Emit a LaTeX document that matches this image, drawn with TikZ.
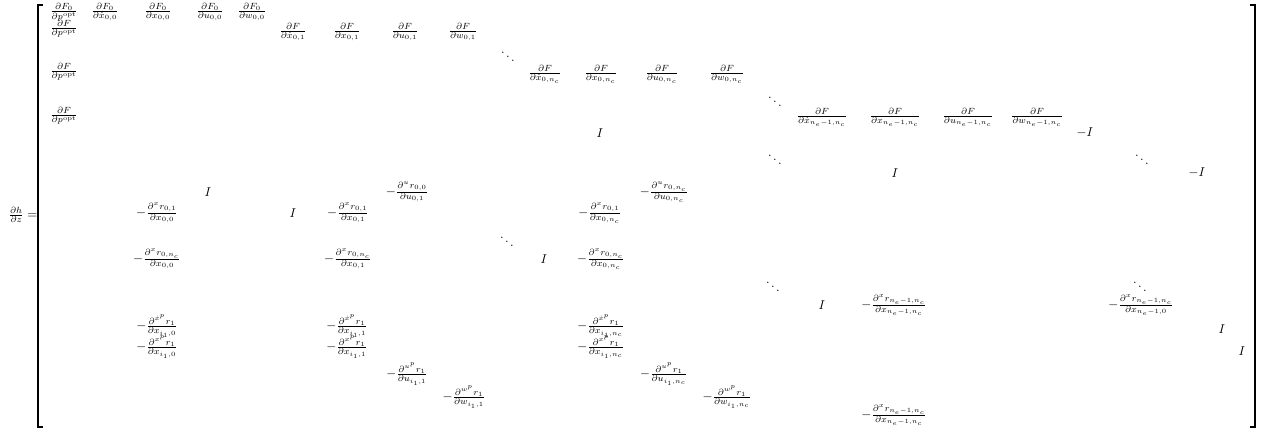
\documentclass[tikz,border=0pt]{standalone}
\usepackage{amsmath}
\begin{document}
\begin{tikzpicture}[x=0.78pt,y=-0.78pt,
  e/.style={inner sep=0pt,anchor=center},
  brk/.style={line width=1.1pt}]
\useasboundingbox (0,0) rectangle (1262,430);
% left hand side
\node[e] (lhs) at (23,215) {$\frac{\partial h}{\partial z} =$};
% brackets
\draw[brk] (43,5) -- (38,5) -- (38,427) -- (43,427);
\draw[brk] (1250,5) -- (1255,5) -- (1255,427) -- (1250,427);
% row 1
\node[e] (a1) at (64,12) {$\frac{\partial F_0}{\partial p^{\mathrm{opt}}}$};
\node[e] (a2) at (105,12) {$\frac{\partial F_0}{\partial \dot{x}_{0,0}}$};
\node[e] (a3) at (158,12) {$\frac{\partial F_0}{\partial x_{0,0}}$};
\node[e] (a4) at (210,12) {$\frac{\partial F_0}{\partial u_{0,0}}$};
\node[e] (a5) at (252,12) {$\frac{\partial F_0}{\partial w_{0,0}}$};
% row 2
\node[e] (b1) at (64,29) {$\frac{\partial F}{\partial p^{\mathrm{opt}}}$};
\node[e] (b2) at (293,32) {$\frac{\partial F}{\partial \dot{x}_{0,1}}$};
\node[e] (b3) at (347,32) {$\frac{\partial F}{\partial x_{0,1}}$};
\node[e] (b4) at (405,32) {$\frac{\partial F}{\partial u_{0,1}}$};
\node[e] (b5) at (463,32) {$\frac{\partial F}{\partial w_{0,1}}$};
\node[e] (d1) at (508,53) {$\ddots$};
% row 3
\node[e] (c1) at (64,72) {$\frac{\partial F}{\partial p^{\mathrm{opt}}}$};
\node[e] (c2) at (545,74) {$\frac{\partial F}{\partial \dot{x}_{0,n_c}}$};
\node[e] (c3) at (601,74) {$\frac{\partial F}{\partial x_{0,n_c}}$};
\node[e] (c4) at (662,74) {$\frac{\partial F}{\partial u_{0,n_c}}$};
\node[e] (c5) at (727,74) {$\frac{\partial F}{\partial w_{0,n_c}}$};
\node[e] (d2) at (775,98) {$\ddots$};
% row 4
\node[e] (f1) at (64,116) {$\frac{\partial F}{\partial p^{\mathrm{opt}}}$};
\node[e] (f2) at (822,117) {$\frac{\partial F}{\partial \dot{x}_{n_e-1,n_c}}$};
\node[e] (f3) at (895,117) {$\frac{\partial F}{\partial x_{n_e-1,n_c}}$};
\node[e] (f4) at (968,117) {$\frac{\partial F}{\partial u_{n_e-1,n_c}}$};
\node[e] (f5) at (1037,117) {$\frac{\partial F}{\partial w_{n_e-1,n_c}}$};
\node[e] (i1) at (600,133) {$I$};
\node[e] (mi1) at (1085,133) {$-I$};
\node[e] (d3) at (775,156) {$\ddots$};
\node[e] (d4) at (1142,156) {$\ddots$};
\node[e] (i2) at (895,173) {$I$};
\node[e] (mi2) at (1197,173) {$-I$};
% dynamics block
\node[e] (i3) at (208,192) {$I$};
\node[e] (g1) at (407,192) {$-\frac{\partial^{u} r_{0,0}}{\partial u_{0,1}}$};
\node[e] (g2) at (664,192) {$-\frac{\partial^{u} r_{0,n_c}}{\partial u_{0,n_c}}$};
\node[e] (g3) at (157,213) {$-\frac{\partial^{x} r_{0,1}}{\partial x_{0,0}}$};
\node[e] (i4) at (293,213) {$I$};
\node[e] (g4) at (348,213) {$-\frac{\partial^{x} r_{0,1}}{\partial x_{0,1}}$};
\node[e] (g5) at (600,213) {$-\frac{\partial^{x} r_{0,1}}{\partial x_{0,n_c}}$};
\node[e] (d5) at (507,238) {$\ddots$};
\node[e] (i5) at (544,259) {$I$};
\node[e] (g6) at (157,259) {$-\frac{\partial^{x} r_{0,n_c}}{\partial x_{0,0}}$};
\node[e] (g7) at (348,259) {$-\frac{\partial^{x} r_{0,n_c}}{\partial x_{0,1}}$};
\node[e] (g8) at (601,259) {$-\frac{\partial^{x} r_{0,n_c}}{\partial x_{0,n_c}}$};
\node[e] (d6) at (773,283) {$\ddots$};
\node[e] (d7) at (1140,283) {$\ddots$};
\node[e] (i6) at (822,305) {$I$};
\node[e] (g9) at (894,305) {$-\frac{\partial^{x} r_{n_e-1,n_c}}{\partial x_{n_e-1,n_c}}$};
\node[e] (g10) at (1141,305) {$-\frac{\partial^{x} r_{n_e-1,n_c}}{\partial x_{n_e-1,0}}$};
% periodicity block
\node[e] (p1) at (157,326) {$-\frac{\partial^{\dot{x}^p} r_1}{\partial x_{i_1,0}}$};
\node[e] (p2) at (347,326) {$-\frac{\partial^{\dot{x}^p} r_1}{\partial x_{i_1,1}}$};
\node[e] (p3) at (601,326) {$-\frac{\partial^{\dot{x}^p} r_1}{\partial x_{i_1,n_c}}$};
\node[e] (i7) at (1222,329) {$I$};
\node[e] (q1) at (157,347) {$-\frac{\partial^{x^p} r_1}{\partial x_{i_1,0}}$};
\node[e] (q2) at (347,347) {$-\frac{\partial^{x^p} r_1}{\partial x_{i_1,1}}$};
\node[e] (q3) at (601,347) {$-\frac{\partial^{x^p} r_1}{\partial x_{i_1,n_c}}$};
\node[e] (i8) at (1242,351) {$I$};
\node[e] (u1) at (407,374) {$-\frac{\partial^{u^p} r_1}{\partial u_{i_1,1}}$};
\node[e] (u2) at (664,374) {$-\frac{\partial^{u^p} r_1}{\partial u_{i_1,n_c}}$};
\node[e] (w1) at (464,397) {$-\frac{\partial^{w^p} r_1}{\partial w_{i_1,1}}$};
\node[e] (w2) at (727,397) {$-\frac{\partial^{w^p} r_1}{\partial w_{i_1,n_c}}$};
\node[e] (g11) at (894,415) {$-\frac{\partial^{x} r_{n_e-1,n_c}}{\partial x_{n_e-1,n_c}}$};
\end{tikzpicture}
\end{document}
